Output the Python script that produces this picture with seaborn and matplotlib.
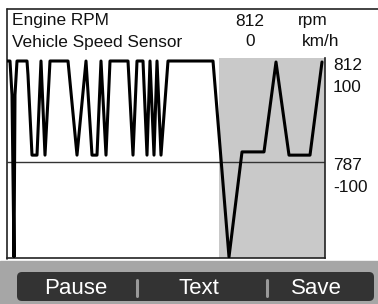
"""
Scan tool live-data graph: Engine RPM trace with speed window.
"""
import matplotlib
matplotlib.use("Agg")
import matplotlib.pyplot as plt
from matplotlib.patches import Rectangle, FancyBboxPatch
import pandas as pd
import seaborn as sns

# sample index (screen columns) and engine rpm
sample = [0, 3, 5, 7, 8, 10, 20, 21, 25, 30, 34, 38, 43, 61, 70, 79, 85, 90,
          94, 99, 103, 121, 126, 130, 136, 140, 143, 147, 150, 154, 161, 206,
          222, 235, 257, 269, 282, 303, 315]
rpm = [812, 812, 803.6, 763.5, 803.6, 812, 812, 808.5, 788.7, 788.7, 812,
       788.7, 812, 812, 788.7, 812, 788.7, 788.7, 812, 788.7, 812, 812, 788.7,
       812, 812, 788.7, 812, 788.7, 812, 788.7, 812, 812, 763.5, 789.5, 789.5,
       811.75, 788.7, 788.7, 811.75]

window = (212, 318)          # highlighted (grey) sample window
rpm_range = (787, 812)
speed_range = (-100, 100)

params = [("Engine RPM", "812", "rpm"), ("Vehicle Speed Sensor", "0", "km/h")]
buttons = ["Pause", "Text", "Save"]

sns.set_style("white")
plt.rcParams["font.family"] = ["Liberation Sans", "DejaVu Sans"]

W, H = 378, 304
fig = plt.figure(figsize=(W / 100, H / 100), dpi=100)
fig.patch.set_facecolor("white")

# background layer in pixel coordinates
bg = fig.add_axes([0, 0, 1, 1])
bg.set_xlim(0, W)
bg.set_ylim(H, 0)
bg.axis("off")
bg.add_patch(Rectangle((0, 261), W, H - 261, color="#a6a6a6", zorder=0))
bg.plot([7, W], [9, 9], color="#222222", lw=1.2)
bg.plot([7, 7], [9, 259], color="#222222", lw=1.2)
bg.add_patch(FancyBboxPatch((17, 272), 357, 29,
                            boxstyle="round,pad=0,rounding_size=5",
                            fc="#333333", ec="none"))

# parameter rows
for i, (name, val, unit) in enumerate(params):
    y = 21 + i * 21
    bg.text(12, y, name, fontsize=12.4, va="center", color="#111111")
    bg.text(250, y, val, fontsize=12.4, va="center", ha="center", color="#111111")
    bg.text(298 + 4 * i, y, unit, fontsize=12.4, va="center", color="#111111")

# buttons
for x, label in zip([76, 199, 316], buttons):
    bg.text(x, 288, label, fontsize=16, ha="center", va="center", color="white")
for x in [137, 267]:
    bg.plot([x, x], [280, 296], color="#9a9a9a", lw=2.2)

# graph
ax = fig.add_axes([7 / W, (H - 258) / H, (325 - 7) / W, (258 - 58) / H])
ax.set_facecolor("none")
df = pd.DataFrame({"sample": sample, "rpm": rpm})
ax.axvspan(*window, color="#c9c9c9", zorder=0, lw=0)
ax.axhline(rpm_range[0], color="#333333", lw=1, zorder=1)
sns.lineplot(data=df, x="sample", y="rpm", ax=ax, color="black", lw=2.2,
             estimator=None, sort=False, zorder=3)
ax.set_xlim(0, 318)
top = rpm_range[1] + 3 * 25 / 101
bottom = rpm_range[1] - 200 * 25 / 101 + 3 * 25 / 101
ax.set_ylim(bottom, top)
ax.set_xticks([])
ax.set_yticks([])
ax.set_xlabel("")
ax.set_ylabel("")
for side in ["top", "left"]:
    ax.spines[side].set_visible(False)
for side in ["right", "bottom"]:
    ax.spines[side].set_color("#222222")
    ax.spines[side].set_linewidth(1.2)

# scale labels on the right
for y, lab in [(66, rpm_range[1]), (88, speed_range[1]),
               (165, rpm_range[0]), (188, speed_range[0])]:
    bg.text(333, y, str(lab), fontsize=12.4, va="center", color="#111111")

fig.savefig("out.png", dpi=100)
